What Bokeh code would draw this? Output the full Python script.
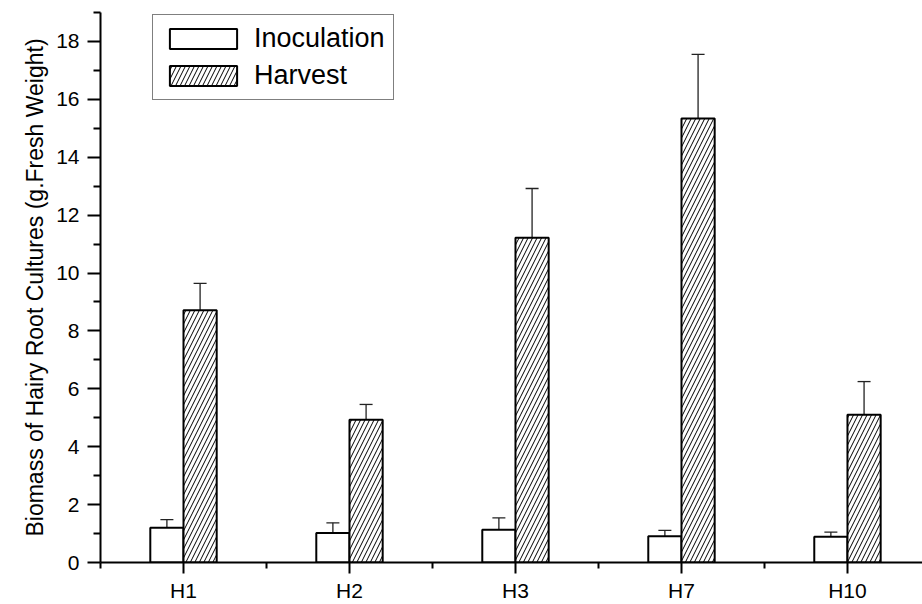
import numpy as np
from bokeh.plotting import figure
from bokeh.models import (ColumnDataSource, FixedTicker, Range1d, Whisker, TeeHead,
                          Legend, LegendItem)
from bokeh.embed import file_html
from bokeh.resources import INLINE

categories = ["H1", "H2", "H3", "H7", "H10"]
inoculation = [1.20, 1.02, 1.13, 0.91, 0.89]
inoculation_err = [0.28, 0.35, 0.41, 0.20, 0.16]
harvest = [8.71, 4.93, 11.22, 15.34, 5.10]
harvest_err = [0.93, 0.53, 1.70, 2.21, 1.15]
y_ticks = [0, 2, 4, 6, 8, 10, 12, 14, 16, 18]

FONT = "Liberation Sans"

x = np.arange(1, len(categories) + 1, dtype=float)
offset = 0.1
bar_w = 0.2

src_i = ColumnDataSource(dict(x=x - offset, top=inoculation,
                              upper=np.array(inoculation) + np.array(inoculation_err)))
src_h = ColumnDataSource(dict(x=x + offset, top=harvest,
                              upper=np.array(harvest) + np.array(harvest_err)))

p = figure(width=922, height=604, output_backend="svg", toolbar_location=None,
           x_range=Range1d(0.5, 5.452), y_range=Range1d(0, 19),
           min_border_left=100, min_border_top=12, min_border_bottom=41, min_border_right=0)
p.outline_line_color = None
p.xgrid.visible = False
p.ygrid.visible = False
p.background_fill_color = "white"

# error bars (upper only)
for src in (src_i, src_h):
    w = Whisker(source=src, base="x", upper="upper", lower="top", dimension="height",
                line_color="#222222", line_width=1.3,
                upper_head=TeeHead(size=13, line_color="#222222", line_width=1.3),
                lower_head=None)
    p.add_layout(w)

r_i = p.vbar(x="x", top="top", width=bar_w, bottom=0, source=src_i,
             fill_color="white", line_color="black", line_width=2)
r_h = p.vbar(x="x", top="top", width=bar_w, bottom=0, source=src_h,
             fill_color="white", line_color="black", line_width=2,
             hatch_pattern="/", hatch_color="black", hatch_weight=1, hatch_scale=9)

# axes
p.xaxis.ticker = FixedTicker(ticks=list(x), minor_ticks=list(np.arange(0.5, 5.6, 1.0)))
p.xaxis.major_label_overrides = {float(v): c for v, c in zip(x, categories)}
p.xaxis.major_label_overrides.update({int(v): c for v, c in zip(x, categories)})
p.yaxis.ticker = FixedTicker(ticks=y_ticks, minor_ticks=list(range(1, 20, 2)))

for ax in (p.xaxis[0], p.yaxis[0]):
    ax.axis_line_width = 2
    ax.axis_line_color = "black"
    ax.major_tick_line_width = 2
    ax.minor_tick_line_width = 2
    ax.major_tick_line_color = "black"
    ax.minor_tick_line_color = "black"
    ax.major_tick_in = 0
    ax.minor_tick_in = 0
    ax.major_label_text_font = FONT
    ax.major_label_text_font_size = "21px"
    ax.major_label_text_color = "black"
    ax.axis_label_text_font = FONT
    ax.axis_label_text_font_size = "23px"
    ax.axis_label_text_font_style = "normal"
    ax.axis_label_text_color = "black"

p.xaxis.major_tick_out = 11
p.xaxis.minor_tick_out = 6
p.xaxis.major_label_standoff = 5
p.yaxis.major_tick_out = 13
p.yaxis.minor_tick_out = 7
p.yaxis.major_label_standoff = 8
p.yaxis.axis_label = "Biomass of Hairy Root Cultures (g.Fresh Weight)"
p.yaxis.axis_label_standoff = 5

legend = Legend(items=[LegendItem(label="Inoculation", renderers=[r_i]),
                       LegendItem(label="Harvest", renderers=[r_h])],
                location=(52, 462), orientation="vertical",
                glyph_width=84, glyph_height=25, label_standoff=9, padding=8, spacing=6,
                label_text_font=FONT, label_text_font_size="27px", label_text_color="black",
                border_line_color="black", border_line_width=1.5,
                background_fill_color="white", background_fill_alpha=1.0, margin=0)
p.add_layout(legend, "center")

open("out.html", "w").write(file_html(p, INLINE))
